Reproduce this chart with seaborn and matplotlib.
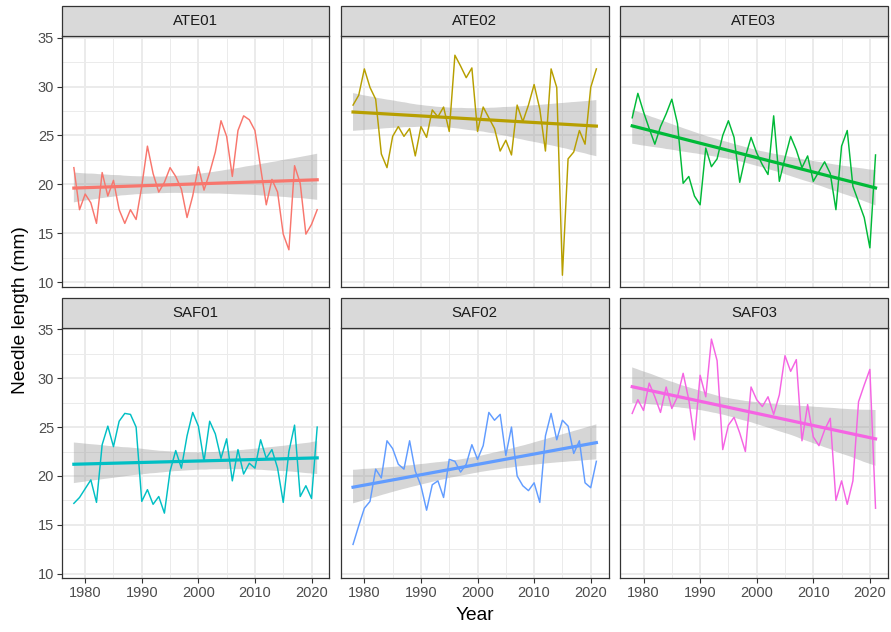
import numpy as np
import pandas as pd
import seaborn as sns
import matplotlib
matplotlib.use("Agg")
import matplotlib.pyplot as plt
from matplotlib.patches import Rectangle
from matplotlib.ticker import MultipleLocator

# ---------------- data ----------------
years = list(range(1978, 2022))
sites = ["ATE01", "ATE02", "ATE03", "SAF01", "SAF02", "SAF03"]

ate01 = [21.7, 17.4, 19.0, 18.1, 16.0, 21.2, 18.8, 20.4, 17.4, 16.0, 17.4, 16.4,
         19.8, 23.9, 21.1, 19.2, 20.2, 21.7, 20.8, 19.5, 16.6, 18.8, 21.8, 19.4,
         21.2, 23.3, 26.5, 24.9, 20.8, 25.5, 27.0, 26.6, 25.5, 21.7, 17.9, 20.5,
         19.2, 14.9, 13.3, 21.9, 20.1, 14.9, 15.9, 17.4]
ate02 = [28.1, 29.1, 31.8, 29.9, 28.7, 23.1, 21.7, 24.9, 25.9, 24.9, 25.7, 22.9,
         25.9, 24.8, 27.6, 26.9, 27.9, 25.4, 33.2, 32.1, 30.9, 31.9, 25.4, 27.9,
         26.8, 25.7, 23.4, 24.5, 23.0, 28.1, 26.4, 28.1, 30.2, 27.7, 23.4, 31.8,
         29.9, 10.7, 22.6, 23.3, 25.5, 24.1, 29.9, 31.8]
ate03 = [26.8, 29.3, 27.4, 25.7, 24.1, 25.9, 27.2, 28.7, 26.2, 20.1, 20.8, 18.8,
         17.9, 23.7, 21.8, 22.6, 25.0, 26.5, 24.8, 20.2, 22.8, 24.8, 23.2, 22.0,
         21.0, 27.0, 20.3, 22.7, 24.9, 23.5, 21.7, 22.9, 20.3, 21.3, 22.3, 21.1,
         17.4, 23.9, 25.5, 19.8, 18.2, 16.6, 13.5, 23.0]
saf01 = [17.2, 17.8, 18.7, 19.6, 17.3, 23.2, 25.1, 23.0, 25.6, 26.4, 26.3, 25.0,
         17.4, 18.6, 17.1, 17.9, 16.2, 20.5, 22.6, 20.8, 24.1, 26.5, 25.1, 21.5,
         25.6, 24.3, 21.8, 23.8, 19.5, 22.7, 20.2, 21.3, 20.8, 23.7, 21.8, 22.7,
         20.8, 17.3, 22.5, 25.2, 17.9, 19.0, 17.7, 25.0]
saf02 = [13.0, 14.9, 16.7, 17.4, 20.7, 19.8, 23.6, 22.8, 21.2, 20.7, 23.6, 20.5,
         19.0, 16.5, 19.1, 19.5, 17.8, 21.7, 21.5, 20.4, 21.2, 23.2, 21.7, 23.1,
         26.5, 25.7, 26.3, 22.1, 25.0, 20.0, 19.0, 18.5, 19.3, 17.3, 24.1, 26.4,
         23.7, 25.7, 25.1, 22.3, 23.6, 19.3, 18.8, 21.5]
saf03 = [26.4, 27.8, 26.7, 29.5, 28.1, 26.5, 29.1, 26.9, 28.1, 30.5, 27.8, 23.7,
         30.3, 28.1, 34.0, 31.8, 22.7, 25.2, 26.0, 24.4, 22.5, 29.1, 27.8, 27.1,
         28.1, 26.3, 28.3, 32.3, 30.7, 31.9, 23.6, 27.3, 24.0, 23.1, 24.7, 25.9,
         17.5, 19.5, 17.1, 19.5, 27.6, 29.3, 30.9, 16.7]

x_ticks = [1980, 1990, 2000, 2010, 2020]
y_ticks = [10, 15, 20, 25, 30, 35]
palette = ["#F8766D", "#B79F00", "#00BA38", "#00BFC4", "#619CFF", "#F564E3"]

series = dict(zip(sites, [ate01, ate02, ate03, saf01, saf02, saf03]))
df = pd.concat([pd.DataFrame({"Year": years, "Needle": v, "Site": s})
                for s, v in series.items()], ignore_index=True)

# ---------------- plotting ----------------
plt.rcParams["font.family"] = ["Liberation Sans", "DejaVu Sans"]

g = sns.FacetGrid(df, col="Site", col_wrap=3, hue="Site", palette=palette,
                  sharex=True, sharey=True, despine=False, height=3, aspect=1)
g.map_dataframe(sns.lineplot, x="Year", y="Needle", linewidth=1.05)

fig = g.figure
fig.set_size_inches(8.91, 6.32)
fig.set_dpi(100)
fig.subplots_adjust(left=61.7 / 891, right=887.7 / 891, top=1 - 36 / 632,
                    bottom=1 - 578.3 / 632, wspace=0.043, hspace=0.164)

ymin, ymax = df["Needle"].min(), df["Needle"].max()
yr = ymax - ymin
xr = max(years) - min(years)

for i, (ax, site) in enumerate(zip(g.axes.flat, sites)):
    sub = df[df["Site"] == site]
    n_before = len(ax.collections)
    sns.regplot(data=sub, x="Year", y="Needle", scatter=False, ci=95, ax=ax,
                color=palette[i], n_boot=2000, seed=1,
                line_kws={"linewidth": 2.3})
    for coll in ax.collections[n_before:]:
        coll.set_facecolor("#999999")
        coll.set_alpha(0.4)
        coll.set_edgecolor("none")
    ax.set_xlim(min(years) - 0.05 * xr, max(years) + 0.05 * xr)
    ax.set_ylim(ymin - 0.05 * yr, ymax + 0.05 * yr)
    ax.set_xticks(x_ticks)
    ax.set_yticks(y_ticks)
    ax.xaxis.set_minor_locator(MultipleLocator(5))
    ax.yaxis.set_minor_locator(MultipleLocator(2.5))
    ax.grid(which="major", color="#EBEBEB", linewidth=1.4)
    ax.grid(which="minor", color="#EBEBEB", linewidth=0.7)
    ax.set_axisbelow(True)
    ax.set_facecolor("white")
    for sp in ax.spines.values():
        sp.set_color("#333333")
        sp.set_linewidth(0.9)
    ax.tick_params(which="major", length=3.5, width=0.8, color="#333333",
                   labelsize=10.5, labelcolor="#4D4D4D", pad=2)
    ax.tick_params(which="minor", length=0)
    col, row = i % 3, i // 3
    if col != 0:
        ax.tick_params(axis="y", which="both", left=False, labelleft=False)
    if row != 1:
        ax.tick_params(axis="x", which="both", bottom=False, labelbottom=False)
    ax.set_title("")
    ax.set_xlabel("")
    ax.set_ylabel("")
    # strip
    strip_h = 30 / 250.6
    ax.add_patch(Rectangle((0, 1), 1, strip_h, transform=ax.transAxes,
                           facecolor="#D9D9D9", edgecolor="#333333",
                           linewidth=0.9, clip_on=False, zorder=5))
    ax.text(0.5, 1 + strip_h / 2, site, transform=ax.transAxes,
            ha="center", va="center", fontsize=10.8, color="#1A1A1A", zorder=6)

fig.text(474.7 / 891, 1 - 615 / 632, "Year", ha="center", va="center",
         fontsize=13.8, color="black")
fig.text(20.5 / 891, 1 - 310 / 632, "Needle length (mm)", ha="center",
         va="center", rotation=90, fontsize=13.8, color="black")

fig.savefig("out.png", dpi=100, facecolor="white")
